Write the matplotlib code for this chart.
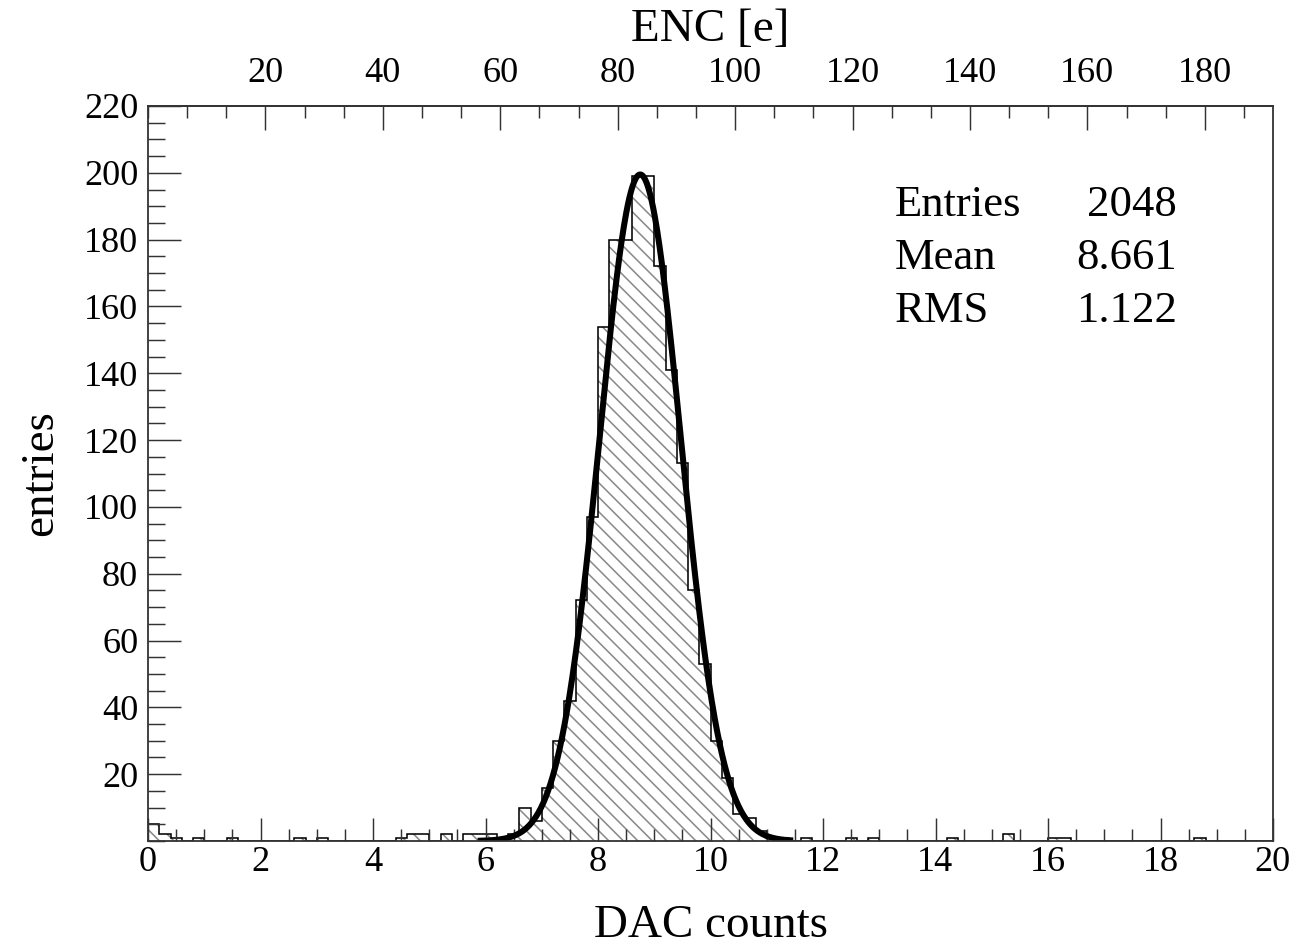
import numpy as np
import matplotlib
matplotlib.use("Agg")
import matplotlib.pyplot as plt
from matplotlib.ticker import MultipleLocator, FixedLocator

# histogram: 100 bins of 0.2 DAC counts from 0 to 20
bin_edges = np.linspace(0, 20, 101)
counts = [
    5, 2, 1, 0, 1, 0, 0, 1, 0, 0,
    0, 0, 0, 1, 0, 1, 0, 0, 0, 0,
    0, 0, 1, 2, 2, 0, 2, 0, 2, 2,
    2, 1, 2, 10, 6, 16, 30, 42, 72, 97,
    154, 180, 180, 199, 199, 172, 141, 113, 75, 53,
    30, 19, 8, 7, 3, 1, 1, 0, 1, 0,
    0, 0, 1, 0, 1, 0, 0, 0, 0, 0,
    0, 1, 0, 0, 0, 0, 2, 0, 0, 0,
    1, 1, 0, 0, 0, 0, 0, 0, 0, 0,
    0, 0, 0, 1, 0, 0, 0, 0, 0, 0,
]

# gaussian fit
fit_const = 199.5
fit_mean = 8.75
fit_sigma = 0.72
fit_range = (5.86, 11.47)

# stats box
stat_names = ["Entries", "Mean", "RMS"]
stat_values = ["2048", "8.661", "1.122"]

# electrons per DAC count for the top axis
enc_per_dac = 9.58

plt.rcParams['font.family'] = ['Liberation Serif', 'DejaVu Serif']
plt.rcParams['hatch.linewidth'] = 1.3

DPI = 87
W, H = 1305, 947
fig = plt.figure(figsize=(W / DPI, H / DPI), dpi=DPI)
ax = fig.add_axes([148 / W, 1 - 841 / H, (1273 - 148) / W, (841 - 106) / H])

# hatched fill, then black outline
ax.stairs(counts, bin_edges, fill=True, facecolor='none', edgecolor='#8a8a8a',
          hatch='\\\\', linewidth=0)
ax.stairs(counts, bin_edges, color='black', linewidth=1.3)

xf = np.linspace(fit_range[0], fit_range[1], 400)
yf = fit_const * np.exp(-0.5 * ((xf - fit_mean) / fit_sigma) ** 2)
ax.plot(xf, yf, color='black', linewidth=5.0, solid_capstyle='butt')

ax.set_xlim(0, 20)
ax.set_ylim(0, 220)

ax.xaxis.set_major_locator(MultipleLocator(2))
ax.xaxis.set_minor_locator(MultipleLocator(0.5))
ax.yaxis.set_major_locator(FixedLocator(range(20, 221, 20)))
ax.yaxis.set_minor_locator(MultipleLocator(5))

ax.tick_params(axis='x', which='both', direction='in', top=False, bottom=True,
               labelsize=30, pad=4, width=1.2, color='#333333')
ax.tick_params(axis='x', which='major', length=19)
ax.tick_params(axis='x', which='minor', length=10)
ax.tick_params(axis='y', which='both', direction='in', right=False, left=True,
               labelsize=30, pad=8, width=1.2, color='#333333')
ax.tick_params(axis='y', which='major', length=27)
ax.tick_params(axis='y', which='minor', length=14)

for sp in ax.spines.values():
    sp.set_linewidth(1.5)
    sp.set_color('#333333')

# top axis in electrons
secax = ax.secondary_xaxis('top', functions=(lambda d: d * enc_per_dac,
                                             lambda e: e / enc_per_dac))
secax.xaxis.set_major_locator(FixedLocator(range(20, 200, 20)))
secax.xaxis.set_minor_locator(MultipleLocator(20 / 3))
secax.tick_params(which='both', direction='in', labelsize=30, pad=13,
                  width=1.2, color='#333333')
secax.tick_params(which='major', length=20)
secax.tick_params(which='minor', length=10)
secax.spines['top'].set_linewidth(1.5)
secax.spines['top'].set_color('#333333')

ax.set_xlabel('DAC counts', fontsize=39)
ax.xaxis.set_label_coords(0.5, -0.087)
ax.set_ylabel('entries', fontsize=39)
ax.yaxis.set_label_coords(-0.076, 0.5)
fig.text(710 / W, 1 - 30 / H, 'ENC [e]', fontsize=39, ha='center', va='center')

# stats text
for i, (name, val) in enumerate(zip(stat_names, stat_values)):
    ypix = 205 + 53 * i
    yax = (841 - ypix) / 735
    ax.text((895 - 148) / 1125, yax, name, transform=ax.transAxes,
            fontsize=37, ha='left', va='center')
    ax.text((1177 - 148) / 1125, yax, val, transform=ax.transAxes,
            fontsize=37, ha='right', va='center')

fig.savefig('out.png', dpi=DPI)
